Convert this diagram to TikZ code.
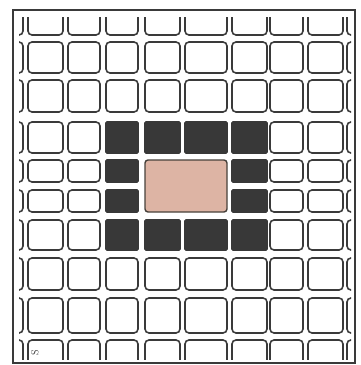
\documentclass[tikz,border=0pt]{standalone}
\usepackage{xcolor}
\usepackage{tikz}
\usetikzlibrary{positioning}

\definecolor{inkgray}{HTML}{3A3A3A}
\definecolor{darkcell}{HTML}{383838}
\definecolor{salmon}{HTML}{DDB4A4}

\begin{document}
\begin{tikzpicture}[
    x=1pt, y=-1pt,
    cell/.style={rectangle, draw=inkgray, line width=1.6pt, rounded corners=4pt, inner sep=0pt, outer sep=0pt},
    darkbox/.style={cell, fill=darkcell, draw=darkcell, rounded corners=1pt},
    core/.style={cell, fill=salmon, draw=inkgray!90!brown, line width=1.4pt, rounded corners=3pt},
    frame/.style={draw=inkgray, line width=1.3pt}
]
    \useasboundingbox (0,0) rectangle (360,365);

    % Grid of cells, clipped by the frame
    \begin{scope}
    \clip (19,17) rectangle (351,359);
    \foreach \r/\top/\bot in {0/3/35, 1/42/73, 2/80/112, 3/122/153, 4/160/182,
                              5/190/212, 6/220/250, 7/258/290, 8/298/333, 9/340/372}{
      \foreach \c/\lft/\rgt in {0/-12/23, 1/28/63, 2/68/100, 3/106/138, 4/145/180,
                                5/185/227, 6/232/267, 7/270/303, 8/308/343, 9/347/382}{
        \pgfmathsetmacro\w{\rgt-\lft}
        \pgfmathsetmacro\h{\bot-\top}
        \pgfmathsetmacro\cx{(\lft+\rgt)/2}
        \pgfmathsetmacro\cy{(\top+\bot)/2}
        \pgfmathtruncatemacro\isdark{((\r==3 || \r==6) && \c>2 && \c<7) || ((\r==4 || \r==5) && (\c==3 || \c==6))}
        \pgfmathtruncatemacro\iscore{(\r==4 || \r==5) && (\c==4 || \c==5)}
        \ifnum\iscore=0
          \ifnum\isdark=1
            \node[darkbox, minimum width=\w pt, minimum height=\h pt] (cell-\r-\c) at (\cx,\cy) {};
          \else
            \node[cell, minimum width=\w pt, minimum height=\h pt] (cell-\r-\c) at (\cx,\cy) {};
          \fi
        \fi
      }
    }
    \end{scope}

    % Centre block
    \node[core, minimum width=82pt, minimum height=52pt] (centre) at (186,186) {};

    % Frame
    \draw[frame] (13,10) rectangle (355,363);
    \node[rotate=90, inner sep=0pt, font=\normalsize, text=inkgray] (mark) at (35,353) {S};
\end{tikzpicture}
\end{document}
